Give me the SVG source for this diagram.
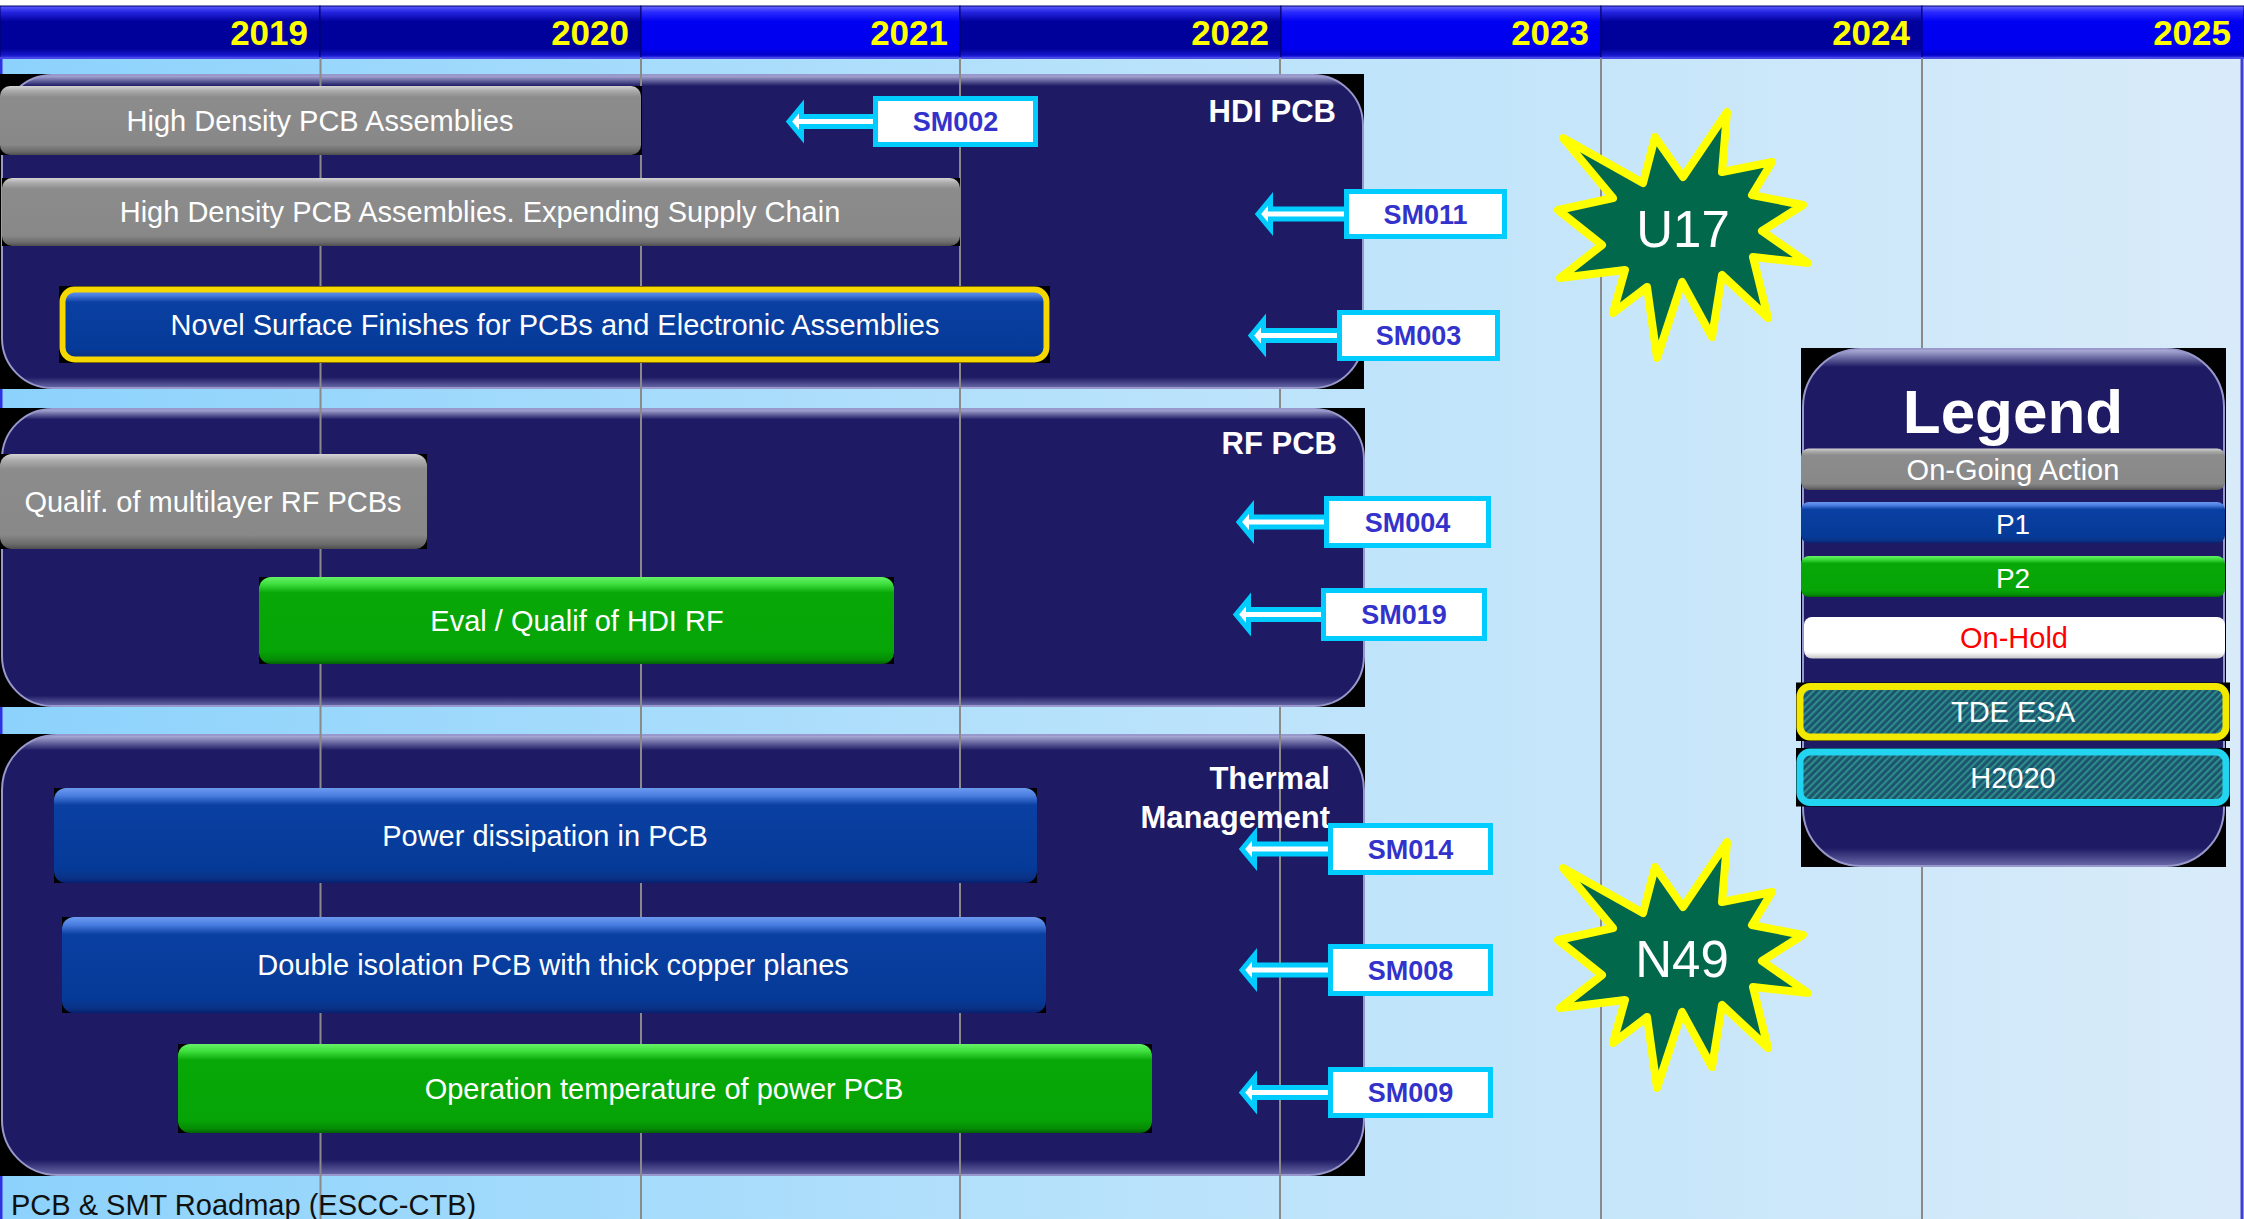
<svg xmlns="http://www.w3.org/2000/svg" width="2244" height="1219" viewBox="0 0 2244 1219">
<defs>
<linearGradient id="bgGrad" x1="0" y1="0" x2="1" y2="0">
<stop offset="0" stop-color="#8cd2fc"/><stop offset="0.5" stop-color="#b8e2fb"/><stop offset="1" stop-color="#d9ebf9"/>
</linearGradient>
<linearGradient id="hdrDark" x1="0" y1="0" x2="0" y2="1">
<stop offset="0" stop-color="#5a5aff"/><stop offset="0.12" stop-color="#2424e0"/><stop offset="0.3" stop-color="#00009c"/><stop offset="0.82" stop-color="#00009a"/><stop offset="0.94" stop-color="#1616c8"/><stop offset="1" stop-color="#3a3af0"/>
</linearGradient>
<linearGradient id="hdrBright" x1="0" y1="0" x2="0" y2="1">
<stop offset="0" stop-color="#6a6aff"/><stop offset="0.12" stop-color="#2a2aff"/><stop offset="0.3" stop-color="#0000f2"/><stop offset="0.82" stop-color="#0000ee"/><stop offset="0.94" stop-color="#0000c8"/><stop offset="1" stop-color="#3a3af0"/>
</linearGradient>
<linearGradient id="panelGrad" x1="0" y1="0" x2="0" y2="1">
<stop offset="0" stop-color="#b4b4dc"/><stop offset="0.035" stop-color="#1e1a64"/><stop offset="0.965" stop-color="#1e1a64"/><stop offset="1" stop-color="#6a6aa8"/>
</linearGradient>
<linearGradient id="grayBar" x1="0" y1="0" x2="0" y2="1">
<stop offset="0" stop-color="#d4d4d4"/><stop offset="0.07" stop-color="#ababab"/><stop offset="0.16" stop-color="#8c8c8c"/><stop offset="0.85" stop-color="#888888"/><stop offset="0.95" stop-color="#6a6a6a"/><stop offset="1" stop-color="#4e4e4e"/>
</linearGradient>
<linearGradient id="blueBar" x1="0" y1="0" x2="0" y2="1">
<stop offset="0" stop-color="#6c9af0"/><stop offset="0.08" stop-color="#4a7ee0"/><stop offset="0.18" stop-color="#0a40a2"/><stop offset="0.85" stop-color="#053a98"/><stop offset="0.95" stop-color="#0a3285"/><stop offset="1" stop-color="#062070"/>
</linearGradient>
<linearGradient id="greenBar" x1="0" y1="0" x2="0" y2="1">
<stop offset="0" stop-color="#66f266"/><stop offset="0.08" stop-color="#3ee03e"/><stop offset="0.18" stop-color="#08a808"/><stop offset="0.85" stop-color="#06a406"/><stop offset="0.95" stop-color="#058c05"/><stop offset="1" stop-color="#046004"/>
</linearGradient>
<linearGradient id="whiteBar" x1="0" y1="0" x2="0" y2="1">
<stop offset="0" stop-color="#ffffff"/><stop offset="0.85" stop-color="#ffffff"/><stop offset="1" stop-color="#c4c4c4"/>
</linearGradient>
<pattern id="hatch" width="5" height="5" patternUnits="userSpaceOnUse" patternTransform="rotate(45)">
<rect width="5" height="5" fill="#1b5270"/><rect width="2.2" height="5" fill="#2e8c86"/>
</pattern>
<polygon id="star" points="1727,112 1722,172 1772,162 1752,195 1803,205 1762,231 1808,263 1753,257 1768,318 1722,275 1712,337 1682,282 1657,358 1647,287 1613,313 1625,270 1560,278 1602,245 1558,210 1613,198 1563,138 1643,183 1655,137 1683,177"/>
</defs>
<style>
text{font-family:"Liberation Sans",Arial,sans-serif}
.year{font-size:35px;font-weight:bold;fill:#ffff00;text-anchor:end}
.grid{stroke:#8a8a8a;stroke-width:2}
.panel{fill:url(#panelGrad);stroke:#9898cc;stroke-width:2}
.blk{fill:#000}
.bar{font-size:29px;fill:#ffffff;text-anchor:middle}
.plabel{font-size:31px;font-weight:bold;fill:#ffffff;text-anchor:end}
.smbox{fill:#ffffff;stroke:#00ccff;stroke-width:5}
.smtxt{font-size:27px;font-weight:bold;fill:#3333cc;text-anchor:middle}
.arrow{fill:#ffffff;stroke:#00ccff;stroke-width:5;stroke-linejoin:miter}
.star{fill:#02684c;stroke:#ffff00;stroke-width:8;stroke-linejoin:round}
.startxt{font-size:51px;fill:#ffffff;text-anchor:middle}
</style>

<rect x="0" y="0" width="2244" height="1219" fill="#ffffff"/>
<rect x="0" y="58" width="2244" height="1161" fill="url(#bgGrad)"/>
<rect x="0" y="58" width="2.5" height="1161" fill="#3030e0"/>
<rect x="2240.5" y="58" width="3" height="1161" fill="#4040d8"/>

<g id="header">
<rect x="0" y="6" width="320" height="52" fill="url(#hdrDark)" stroke="#00006a" stroke-width="1"/>
<rect x="320" y="6" width="321" height="52" fill="url(#hdrDark)" stroke="#00006a" stroke-width="1"/>
<rect x="641" y="6" width="319" height="52" fill="url(#hdrBright)" stroke="#00006a" stroke-width="1"/>
<rect x="960" y="6" width="321" height="52" fill="url(#hdrDark)" stroke="#00006a" stroke-width="1"/>
<rect x="1281" y="6" width="320" height="52" fill="url(#hdrBright)" stroke="#00006a" stroke-width="1"/>
<rect x="1601" y="6" width="321" height="52" fill="url(#hdrDark)" stroke="#00006a" stroke-width="1"/>
<rect x="1922" y="6" width="322" height="52" fill="url(#hdrBright)" stroke="#00006a" stroke-width="1"/>
<rect x="0" y="57" width="2244" height="2" fill="#4848e8"/>
<text class="year" x="308" y="45">2019</text>
<text class="year" x="629" y="45">2020</text>
<text class="year" x="948" y="45">2021</text>
<text class="year" x="1269" y="45">2022</text>
<text class="year" x="1589" y="45">2023</text>
<text class="year" x="1910" y="45">2024</text>
<text class="year" x="2231" y="45">2025</text>
</g>

<g id="hdi-pcb-panel">
<rect class="blk" x="0" y="74" width="1364" height="315"/>
<rect class="panel" x="2" y="75" width="1361" height="313" rx="50"/>
<text class="plabel" x="1336" y="122">HDI PCB</text>
</g>
<g id="rf-pcb-panel">
<rect class="blk" x="0" y="408" width="1365" height="299"/>
<rect class="panel" x="2" y="409" width="1362" height="297" rx="50"/>
<text class="plabel" x="1337" y="454">RF PCB</text>
</g>
<g id="thermal-panel">
<rect class="blk" x="0" y="734" width="1365" height="442"/>
<rect class="panel" x="2" y="735" width="1362" height="440" rx="55"/>
</g>

<g id="gridlines">
<line class="grid" x1="320.5" y1="58" x2="320.5" y2="1219"/>
<line class="grid" x1="641" y1="58" x2="641" y2="1219"/>
<line class="grid" x1="960" y1="58" x2="960" y2="1219"/>
<line class="grid" x1="1280" y1="58" x2="1280" y2="74"/>
<line class="grid" x1="1280" y1="389" x2="1280" y2="408"/>
<line class="grid" x1="1280" y1="707" x2="1280" y2="1219"/>
<line class="grid" x1="1601" y1="58" x2="1601" y2="1219"/>
<line class="grid" x1="1922" y1="58" x2="1922" y2="1219"/>
</g>

<g id="thermal-label">
<text class="plabel" x="1330" y="789">Thermal</text>
<text class="plabel" x="1330" y="828">Management</text>
</g>

<g id="bar-hd-assemblies">
<rect class="blk" x="0" y="86" width="642" height="69"/>
<rect x="0" y="86" width="641" height="69" rx="10" fill="url(#grayBar)"/>
<text class="bar" x="320" y="131">High Density PCB Assemblies</text>
</g>
<g id="bar-hd-supply">
<rect class="blk" x="2" y="178" width="958" height="68"/>
<rect x="2" y="178" width="958" height="68" rx="10" fill="url(#grayBar)"/>
<text class="bar" x="480" y="222">High Density PCB Assemblies. Expending Supply Chain</text>
</g>
<g id="bar-novel-surface">
<rect class="blk" x="59" y="286" width="991" height="77"/>
<rect x="62.5" y="289.5" width="984" height="70" rx="12" fill="url(#blueBar)" stroke="#f6d800" stroke-width="6"/>
<text class="bar" x="555" y="335">Novel Surface Finishes for PCBs and Electronic Assemblies</text>
</g>
<g id="bar-qualif-rf">
<rect class="blk" x="0" y="454" width="427" height="95"/>
<rect x="0" y="454" width="427" height="95" rx="12" fill="url(#grayBar)"/>
<text class="bar" x="213" y="512">Qualif. of multilayer RF PCBs</text>
</g>
<g id="bar-eval-hdi-rf">
<rect class="blk" x="259" y="577" width="635" height="87"/>
<rect x="259" y="577" width="635" height="87" rx="12" fill="url(#greenBar)"/>
<text class="bar" x="577" y="631">Eval / Qualif of HDI RF</text>
</g>
<g id="bar-power-dissipation">
<rect class="blk" x="54" y="788" width="983" height="95"/>
<rect x="54" y="788" width="983" height="95" rx="12" fill="url(#blueBar)"/>
<text class="bar" x="545" y="846">Power dissipation in PCB</text>
</g>
<g id="bar-double-isolation">
<rect class="blk" x="62" y="917" width="984" height="96"/>
<rect x="62" y="917" width="984" height="96" rx="12" fill="url(#blueBar)"/>
<text class="bar" x="553" y="975">Double isolation PCB with thick copper planes</text>
</g>
<g id="bar-operation-temp">
<rect class="blk" x="178" y="1044" width="974" height="89"/>
<rect x="178" y="1044" width="974" height="89" rx="12" fill="url(#greenBar)"/>
<text class="bar" x="664" y="1099">Operation temperature of power PCB</text>
</g>

<g id="connectors">
<path class="arrow" d="M789,121.5 L801.5,106.5 L801.5,116.5 L876,116.5 L876,126.5 L801.5,126.5 L801.5,136.5 Z"/>
<path class="arrow" d="M1258,214 L1270.5,199 L1270.5,209 L1347,209 L1347,219 L1270.5,219 L1270.5,229 Z"/>
<path class="arrow" d="M1251,335.5 L1263.5,320.5 L1263.5,330.5 L1340,330.5 L1340,340.5 L1263.5,340.5 L1263.5,350.5 Z"/>
<path class="arrow" d="M1239,522 L1251.5,507 L1251.5,517 L1327,517 L1327,527 L1251.5,527 L1251.5,537 Z"/>
<path class="arrow" d="M1236,614.5 L1248.5,599.5 L1248.5,609.5 L1324,609.5 L1324,619.5 L1248.5,619.5 L1248.5,629.5 Z"/>
<path class="arrow" d="M1242,849 L1254.5,834 L1254.5,844 L1331,844 L1331,854 L1254.5,854 L1254.5,864 Z"/>
<path class="arrow" d="M1242,970 L1254.5,955 L1254.5,965 L1331,965 L1331,975 L1254.5,975 L1254.5,985 Z"/>
<path class="arrow" d="M1242,1092.5 L1254.5,1077.5 L1254.5,1087.5 L1331,1087.5 L1331,1097.5 L1254.5,1097.5 L1254.5,1107.5 Z"/>
</g>

<g id="SM002"><rect class="smbox" x="875.5" y="98.5" width="160" height="46"/><text class="smtxt" x="955.5" y="131">SM002</text></g>
<g id="SM011"><rect class="smbox" x="1346.5" y="191.5" width="158" height="45"/><text class="smtxt" x="1425.5" y="223.5">SM011</text></g>
<g id="SM003"><rect class="smbox" x="1339.5" y="312.5" width="158" height="46"/><text class="smtxt" x="1418.5" y="345">SM003</text></g>
<g id="SM004"><rect class="smbox" x="1326.5" y="498.5" width="162" height="47"/><text class="smtxt" x="1407.5" y="531.5">SM004</text></g>
<g id="SM019"><rect class="smbox" x="1323.5" y="590.5" width="161" height="48"/><text class="smtxt" x="1404" y="624">SM019</text></g>
<g id="SM014"><rect class="smbox" x="1330.5" y="825.5" width="160" height="47"/><text class="smtxt" x="1410.5" y="858.5">SM014</text></g>
<g id="SM008"><rect class="smbox" x="1330.5" y="946.5" width="160" height="47"/><text class="smtxt" x="1410.5" y="979.5">SM008</text></g>
<g id="SM009"><rect class="smbox" x="1330.5" y="1069.5" width="160" height="46"/><text class="smtxt" x="1410.5" y="1102">SM009</text></g>

<g id="U17">
<use href="#star" class="star"/>
<text class="startxt" x="1683" y="247">U17</text>
</g>
<g id="N49">
<use href="#star" class="star" transform="translate(0,730)"/>
<text class="startxt" x="1682" y="977">N49</text>
</g>

<g id="legend">
<rect class="blk" x="1801" y="348" width="425" height="519"/>
<rect class="panel" x="1803" y="349" width="421" height="517" rx="58"/>
<text x="2013" y="433" font-size="62" font-weight="bold" fill="#ffffff" text-anchor="middle">Legend</text>
<rect x="1801" y="448.5" width="424" height="41.5" rx="8" fill="url(#grayBar)"/>
<text class="bar" x="2013" y="479.5" fill="#f0f0f0">On-Going Action</text>
<rect x="1801" y="502" width="424" height="41" rx="8" fill="url(#blueBar)"/>
<text class="bar" x="2013" y="533.5" style="font-size:28px">P1</text>
<rect x="1801" y="556" width="424" height="41" rx="8" fill="url(#greenBar)"/>
<text class="bar" x="2013" y="587.5" style="font-size:28px">P2</text>
<rect x="1804" y="617" width="421" height="41.5" rx="8" fill="url(#whiteBar)"/>
<text class="bar" x="2014" y="648" style="fill:#ff0000">On-Hold</text>
<rect class="blk" x="1796" y="682.5" width="434" height="58.5"/>
<rect x="1800" y="686.5" width="426" height="50.5" rx="10" fill="url(#hatch)" stroke="#f2e800" stroke-width="7"/>
<text class="bar" x="2013" y="722">TDE ESA</text>
<rect class="blk" x="1796" y="748" width="434" height="58.5"/>
<rect x="1800" y="752" width="426" height="50.5" rx="10" fill="url(#hatch)" stroke="#22d4f0" stroke-width="7"/>
<text class="bar" x="2013" y="787.5">H2020</text>
</g>

<text x="11" y="1215" font-size="29" fill="#111111">PCB &amp; SMT Roadmap (ESCC-CTB)</text>
</svg>
